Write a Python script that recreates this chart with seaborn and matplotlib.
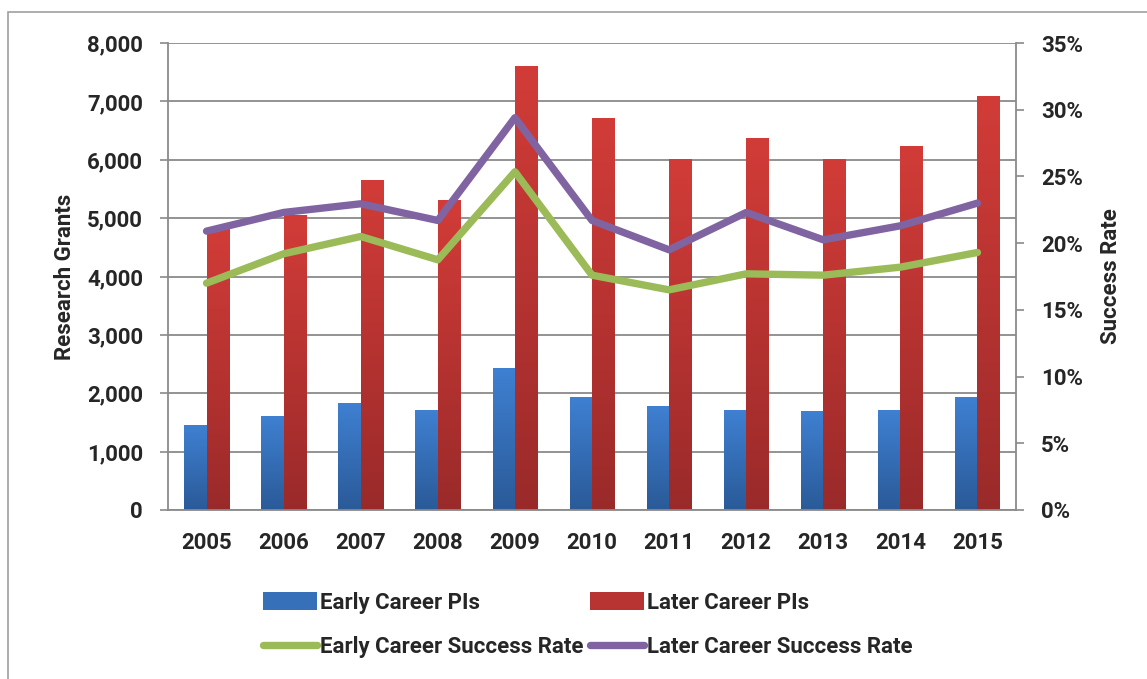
import numpy as np
import pandas as pd
import matplotlib
matplotlib.use('Agg')
import matplotlib.pyplot as plt
from matplotlib.colors import LinearSegmentedColormap
from matplotlib.patches import Patch, Rectangle
from matplotlib.lines import Line2D
from matplotlib.ticker import FuncFormatter, FixedLocator
import seaborn as sns

# Data
years = ['2005', '2006', '2007', '2008', '2009', '2010', '2011', '2012', '2013', '2014', '2015']
early_pis = [1440, 1610, 1830, 1700, 2430, 1920, 1765, 1700, 1680, 1700, 1920]
later_pis = [4800, 5050, 5650, 5310, 7590, 6715, 6010, 6370, 6000, 6235, 7075]
early_rate = [0.170, 0.192, 0.205, 0.1875, 0.2535, 0.176, 0.165, 0.177, 0.176, 0.182, 0.193]
later_rate = [0.209, 0.223, 0.2295, 0.217, 0.294, 0.217, 0.195, 0.223, 0.2025, 0.213, 0.230]

bar_names = ['Early Career PIs', 'Later Career PIs']
line_names = ['Early Career Success Rate', 'Later Career Success Rate']

blue_mid, red_mid = '#3670B8', '#B83432'
green, purple = '#9BBB59', '#8064A2'
grad = {
    bar_names[0]: LinearSegmentedColormap.from_list('blue', ['#2A5A98', '#3F80D2']),
    bar_names[1]: LinearSegmentedColormap.from_list('red', ['#9A2A2A', '#D23C38']),
}

bars = pd.DataFrame({
    'Year': years * 2,
    'Grants': early_pis + later_pis,
    'Group': [bar_names[0]] * len(years) + [bar_names[1]] * len(years),
})
rates = pd.DataFrame({
    'Year': years * 2,
    'Rate': early_rate + later_rate,
    'Series': [line_names[0]] * len(years) + [line_names[1]] * len(years),
})

sns.set_style('white')
plt.rcParams['font.family'] = ['Roboto', 'DejaVu Sans']
plt.rcParams['font.weight'] = 'bold'
fs = 16

fig = plt.figure(figsize=(11.47, 6.79), dpi=100)
ax = fig.add_axes([168 / 1147, 1 - 510 / 679, (1016 - 168) / 1147, (510 - 43) / 679])

sns.barplot(data=bars, x='Year', y='Grants', hue='Group', order=years, hue_order=bar_names,
            palette=[blue_mid, red_mid], width=0.58, gap=0, saturation=1, ax=ax, legend=False)

# gradient fill on each bar
ax.set_ylim(0, 8000)
xl = ax.get_xlim()
grad_img = np.linspace(0, 1, 256).reshape(-1, 1)
for i, p in enumerate(list(ax.patches)):
    name = bar_names[i // len(years)]
    x0, w, h = p.get_x(), p.get_width(), p.get_height()
    ax.imshow(grad_img, cmap=grad[name], origin='lower', aspect='auto',
              extent=(x0, x0 + w, 0, h), zorder=2)
    p.set_visible(False)
ax.set_xlim(xl)
ax.set_ylim(0, 8000)

ax.set_yticks(np.arange(0, 8001, 1000))
ax.yaxis.set_major_formatter(FuncFormatter(lambda v, _: f'{int(v):,}'))
ax.grid(axis='y', color='#8A8A8A', linewidth=1.3, zorder=0)
ax.set_axisbelow(True)
ax.tick_params(axis='y', length=6, width=1.2, color='#8A8A8A', pad=12, labelsize=fs)
ax.tick_params(axis='x', which='major', length=0, pad=16, labelsize=fs)
ax.xaxis.set_minor_locator(FixedLocator(np.arange(-0.5, len(years), 1)))
ax.tick_params(axis='x', which='minor', length=7, width=1.2, color='#8A8A8A')
for lab in ax.get_xticklabels() + ax.get_yticklabels():
    lab.set_fontweight('bold')
ax.set_xlabel('')
ax.set_ylabel('Research Grants', fontsize=fs, fontweight='bold', labelpad=8)
for s in ['left', 'bottom']:
    ax.spines[s].set_color('#8A8A8A')
    ax.spines[s].set_linewidth(1.3)
ax.spines['top'].set_visible(False)
ax.spines['right'].set_visible(False)

ax2 = ax.twinx()
sns.pointplot(data=rates, x='Year', y='Rate', hue='Series', order=years, hue_order=line_names,
              palette=[green, purple], markers='', linewidth=5.3, errorbar=None,
              ax=ax2, legend=False)
for ln in ax2.lines:
    ln.set_solid_capstyle('round')
    ln.set_solid_joinstyle('round')
ax2.set_xlim(xl)
ax2.set_ylim(0, 0.35)
ax2.set_yticks(np.arange(0, 0.351, 0.05))
ax2.yaxis.set_major_formatter(FuncFormatter(lambda v, _: f'{v * 100:.0f}%'))
ax2.tick_params(axis='y', length=6, width=1.2, color='#8A8A8A', pad=12, labelsize=fs)
for lab in ax2.get_yticklabels():
    lab.set_fontweight('bold')
ax2.set_ylabel('Success Rate', fontsize=fs, fontweight='bold', labelpad=12)
ax2.grid(False)
for s in ['top', 'left', 'bottom']:
    ax2.spines[s].set_visible(False)
ax2.spines['right'].set_color('#8A8A8A')
ax2.spines['right'].set_linewidth(1.3)

# legend: column 1 = early, column 2 = later
handles = [
    Patch(facecolor=blue_mid, edgecolor='none'),
    Line2D([], [], color=green, linewidth=5.3, solid_capstyle='round'),
    Patch(facecolor=red_mid, edgecolor='none'),
    Line2D([], [], color=purple, linewidth=5.3, solid_capstyle='round'),
]
labels = [bar_names[0], line_names[0], bar_names[1], line_names[1]]
fig.legend(handles, labels, ncol=2, loc='center',
           bbox_to_anchor=(588 / 1147, 1 - 625 / 679), frameon=False,
           prop={'size': fs, 'weight': 'bold'}, handlelength=2.4, handleheight=0.9,
           handletextpad=0.15, columnspacing=0.3, labelspacing=1.0)

# chart border
fig.add_artist(Rectangle((8 / 1147, -0.1), 1.2, 1.1 - 12 / 679, transform=fig.transFigure,
                         fill=False, edgecolor='#A0A0A0', linewidth=1.2))

fig.savefig('out.png', dpi=100)
